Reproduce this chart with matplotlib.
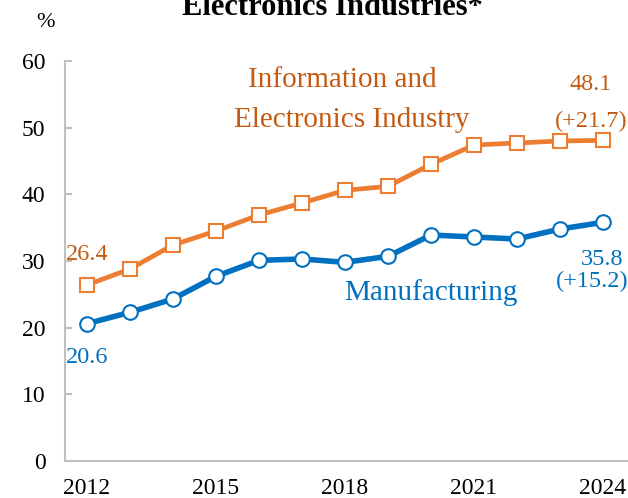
import matplotlib.pyplot as plt

years = list(range(2012, 2025))
info_elec = [26.4, 28.8, 32.4, 34.5, 36.9, 38.7, 40.6, 41.2, 44.5, 47.4, 47.7, 48.0, 48.1]
manufacturing = [20.6, 22.3, 24.3, 27.7, 30.1, 30.3, 29.8, 30.7, 33.9, 33.6, 33.3, 34.8, 35.8]
x_ticks = [2012, 2015, 2018, 2021, 2024]
y_ticks = [0, 10, 20, 30, 40, 50, 60]

orange = '#ED7D31'
orange_txt = '#C55A11'
blue = '#0070C0'

plt.rcParams['font.family'] = ['Liberation Serif', 'DejaVu Serif']

fig = plt.figure(figsize=(6.28, 4.98), dpi=100)
ax = fig.add_axes([0.1035, 0.0743, 0.8965, 0.8032])

ax.plot(years, info_elec, color=orange, linewidth=3.4, marker='s', markersize=9.5,
        markerfacecolor='white', markeredgecolor=orange, markeredgewidth=1.5, zorder=3)
ax.plot(years, manufacturing, color=blue, linewidth=4, marker='o', markersize=10.5,
        markerfacecolor='white', markeredgecolor=blue, markeredgewidth=1.5, zorder=3)

ax.set_xlim(2011.49, 2024.58)
ax.set_ylim(0, 60)
ax.set_xticks(x_ticks)
ax.set_yticks(y_ticks)
ax.tick_params(axis='x', length=0, labelsize=17, pad=12)
ax.tick_params(axis='y', direction='in', length=5, width=1.5, color='#BFBFBF', labelsize=17, pad=14)
for s in ['top', 'right']:
    ax.spines[s].set_visible(False)
for s in ['left', 'bottom']:
    ax.spines[s].set_color('#BFBFBF')
    ax.spines[s].set_linewidth(1.5)

# series labels
ax.text(2017.93, 56.1, 'Information and', color=orange_txt, fontsize=21, ha='center', va='baseline')
ax.text(2018.16, 50.1, 'Electronics Industry', color=orange_txt, fontsize=21, ha='center', va='baseline')
ax.text(2020.0, 24.15, 'Manufacturing', color=blue, fontsize=21, ha='center', va='baseline')

# value labels
ax.text(years[0], 30.15, '26.4', color=orange_txt, fontsize=17.5, ha='center', va='baseline')
ax.text(years[0], 14.7, '20.6', color=blue, fontsize=17.5, ha='center', va='baseline')
ax.text(2023.72, 55.65, '48.1', color=orange_txt, fontsize=17.5, ha='center', va='baseline')
ax.text(2023.72, 50.1, '(+21.7)', color=orange_txt, fontsize=17.5, ha='center', va='baseline')
ax.text(2023.97, 29.4, '35.8', color=blue, fontsize=17.5, ha='center', va='baseline')
ax.text(2023.75, 26.1, '(+15.2)', color=blue, fontsize=17.5, ha='center', va='baseline')

fig.text(0.0725, 0.955, '%', fontsize=16, ha='center', va='center')
fig.text(0.529, 0.970, 'Electronics Industries*', fontsize=22, fontweight='bold',
         ha='center', va='baseline')

fig.savefig('out.png', dpi=100)
